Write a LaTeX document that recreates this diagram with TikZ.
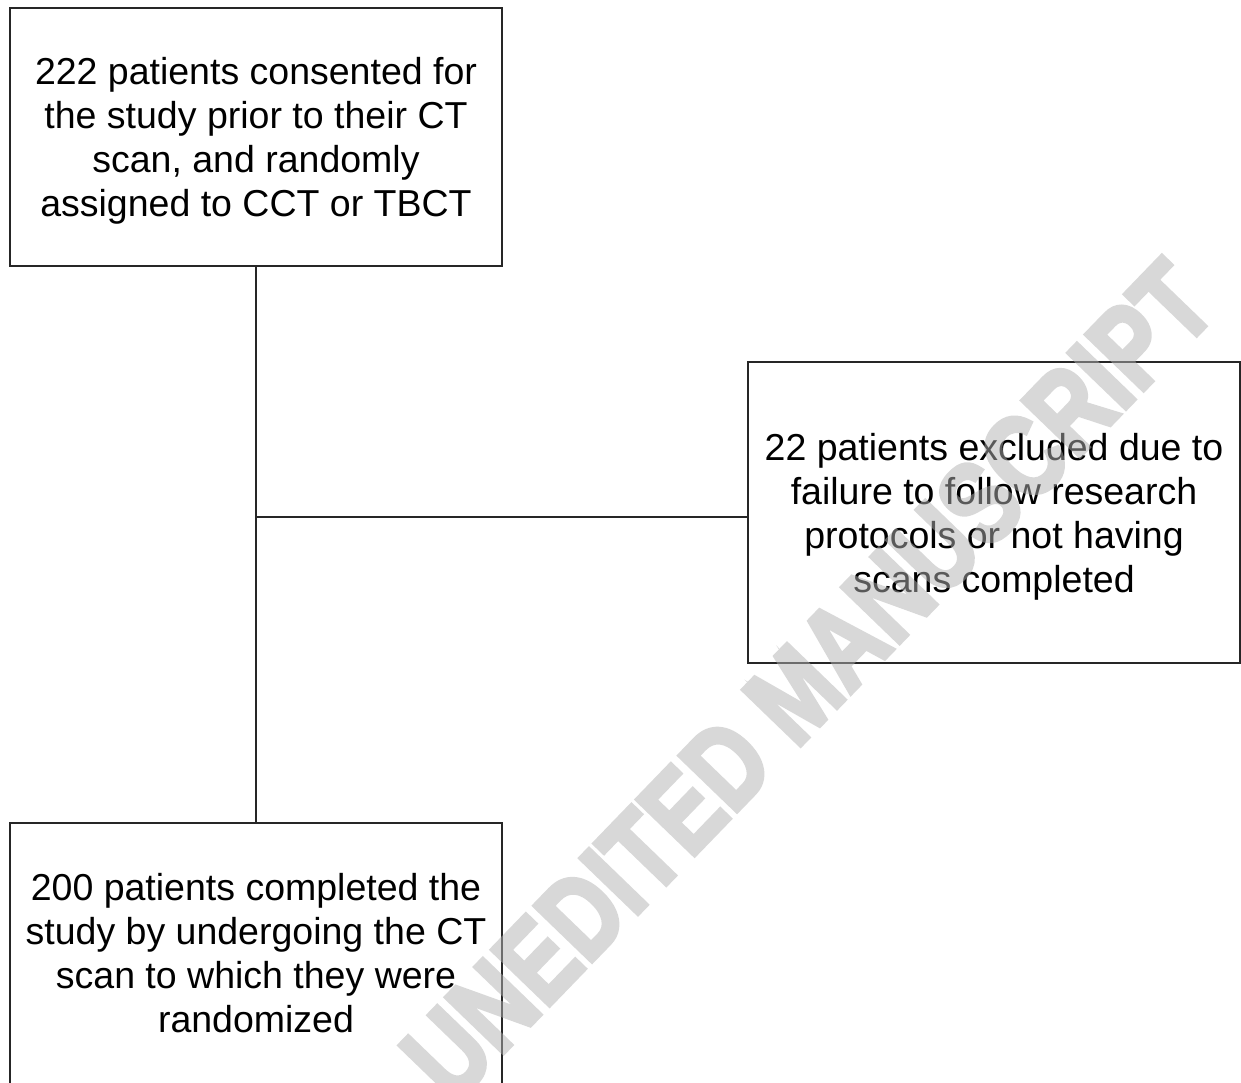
\documentclass[tikz,border=0pt]{standalone}
\usepackage{fontspec}
\setmainfont{Liberation Sans}
\newfontfamily\wmfont[FakeBold=4]{Liberation Sans Bold}
\newcommand\bxtopstrut{\rule{0pt}{35.5pt}}
\newcommand\bxbotstrut{\rule[-10pt]{0pt}{10pt}}
\begin{document}
\begin{tikzpicture}[x=1pt,y=-1pt,
  flowbox/.style={draw=black!85, line width=2pt, align=center, inner sep=0pt,
    minimum width=492pt, font=\fontsize{37.5}{44}\selectfont},
  conn/.style={draw=black!85, line width=1.3pt},
  wmark/.style={font=\wmfont\fontsize{116}{120}\selectfont, text=black!30, inner sep=0pt}]
\useasboundingbox (0,0) rectangle (1241,1083);
\node[flowbox, minimum height=258pt] (top) at (256,137)
  {\bxtopstrut 222 patients consented for\\the study prior to their CT\\scan, and randomly\\assigned to CCT or TBCT};
\node[flowbox, minimum height=301pt] (excl) at (994,512.5)
  {\bxtopstrut 22 patients excluded due to\\failure to follow research\\protocols or not having\\scans completed};
\node[flowbox, minimum height=270pt] (done) at (256,958)
  {200 patients completed the\\study by undergoing the CT\\scan to which they were\\randomized\bxbotstrut};
\coordinate (j) at (257,517);
\draw[conn] (top.south) -- (done.north);
\draw[conn] (j) -- (j -| excl.west);
\begin{scope}[transparency group, opacity=0.5]
\node[wmark, rotate=46] (wm) at (808,680) {\scalebox{0.79}[1]{UNEDITED MANUSCRIPT}};
\end{scope}
\end{tikzpicture}
\end{document}
